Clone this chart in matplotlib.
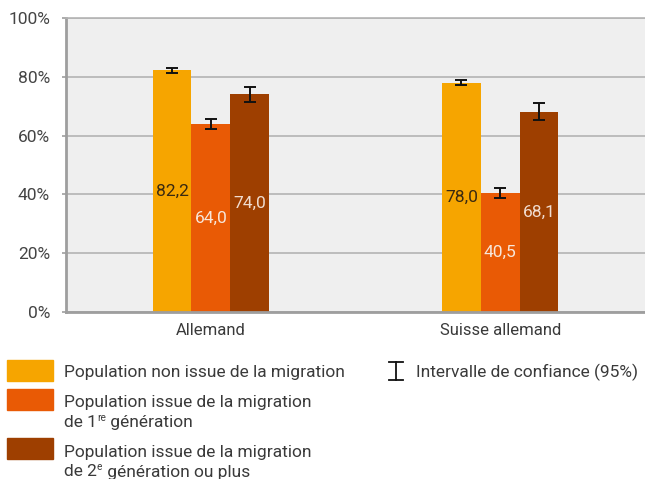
import matplotlib
matplotlib.use("Agg")
import matplotlib.pyplot as plt
import numpy as np
from matplotlib.lines import Line2D
from matplotlib.patches import Rectangle

plt.rcParams["font.family"] = ["Roboto", "DejaVu Sans"]

# ------------------------------------------------------------------ données

categories = ["Allemand", "Suisse allemand"]
# chaque ligne de légende : liste de (texte, exposant?)
series_lines = [
    [[("Population non issue de la migration", False)]],
    [[("Population issue de la migration", False)],
     [("de 1", False), ("re", True), (" génération", False)]],
    [[("Population issue de la migration", False)],
     [("de 2", False), ("e", True), (" génération ou plus", False)]],
]
values = [
    [82.2, 78.0],
    [64.0, 40.5],
    [74.0, 68.1],
]
errors = [
    [0.9, 0.85],
    [1.6, 1.75],
    [2.7, 2.9],
]
value_labels = [
    ["82,2", "78,0"],
    ["64,0", "40,5"],
    ["74,0", "68,1"],
]
yticks = [0, 20, 40, 60, 80, 100]
ci_label = "Intervalle de confiance (95%)"

colors = ["#F6A500", "#E95A05", "#9E3F00"]
label_colors = ["#3a2a10", "#f7e6da", "#f0dccf"]
text_color = "#3a3a3a"

# ------------------------------------------------------------------ figure

W, H = 645, 479
fig = plt.figure(figsize=(W / 100, H / 100), dpi=100)
ax = fig.add_axes([66 / W, 1 - 312 / H, 1 - 66 / W, (312 - 18) / H])
ax.set_facecolor("#efefef")

x = np.arange(len(categories))
bw = 0.134
for i, (vals, errs) in enumerate(zip(values, errors)):
    xs = x + (i - 1) * bw
    ax.bar(xs, vals, width=bw, color=colors[i], zorder=2)
    ax.errorbar(xs, vals, yerr=errs, fmt="none", ecolor="#111111",
                elinewidth=1.4, capsize=4.5, capthick=1.4, zorder=3)
    for xv, v, lab in zip(xs, vals, value_labels[i]):
        ax.text(xv, v / 2, lab, ha="center", va="center", fontsize=12.5,
                color=label_colors[i], zorder=4)

ax.set_xlim(-0.5, 1.5)
ax.set_ylim(0, 100)
ax.set_yticks(yticks)
ax.set_yticklabels([f"{t}%" for t in yticks])
ax.set_xticks(x)
ax.set_xticklabels(categories)
ax.yaxis.grid(True, color="#b4b4b4", lw=1.2, zorder=1)
ax.tick_params(axis="y", length=3, width=1.2, color="#9e9e9e",
               labelsize=12.5, labelcolor="#444444", pad=8.5)
ax.tick_params(axis="x", length=0, labelsize=12, labelcolor=text_color, pad=8)
ax.spines["right"].set_visible(False)
for side in ["left", "bottom"]:
    ax.spines[side].set_color("#9e9e9e")
    ax.spines[side].set_linewidth(2)
ax.spines["top"].set_color("#b4b4b4")
ax.spines["top"].set_linewidth(1.2)

# ------------------------------------------------------------------ légende

def fx(px):
    return px / W


def fy(py):
    return 1 - py / H


renderer = fig.canvas.get_renderer()


def rich_line(x0, baseline, parts, size=12.5, color=text_color):
    xpos = x0
    for txt, sup in parts:
        fs = size * 0.58 if sup else size
        yb = baseline - 6 if sup else baseline
        t = fig.text(fx(xpos), fy(yb), txt, ha="left", va="baseline",
                     fontsize=fs, color=color)
        bb = t.get_window_extent(renderer)
        # les espaces de tête/queue ne comptent pas dans l'étendue
        xpos = bb.x1 + (0.5 if sup else 0)
        if txt.endswith(" "):
            xpos += fs * 0.35


box_tops = [360, 389, 438]
baselines = [[377], [406.7, 426.7], [456.5, 476.5]]
for top, c, lines, bls in zip(box_tops, colors, series_lines, baselines):
    fig.add_artist(Rectangle((fx(7), fy(top + 21)), fx(46), 21 / H,
                             color=c, transform=fig.transFigure))
    for parts, bl in zip(lines, bls):
        rich_line(64, bl, parts)

# symbole intervalle de confiance
cx, y0, y1 = 396, 362, 380
fig.add_artist(Line2D([fx(cx), fx(cx)], [fy(y0), fy(y1)], color="#111111", lw=1.3))
for yy in (y0, y1):
    fig.add_artist(Line2D([fx(cx - 7), fx(cx + 7)], [fy(yy), fy(yy)],
                          color="#111111", lw=1.3))
fig.text(fx(416), fy(377), ci_label, ha="left", va="baseline",
         fontsize=12.5, color=text_color)

fig.savefig("out.png", dpi=100)
